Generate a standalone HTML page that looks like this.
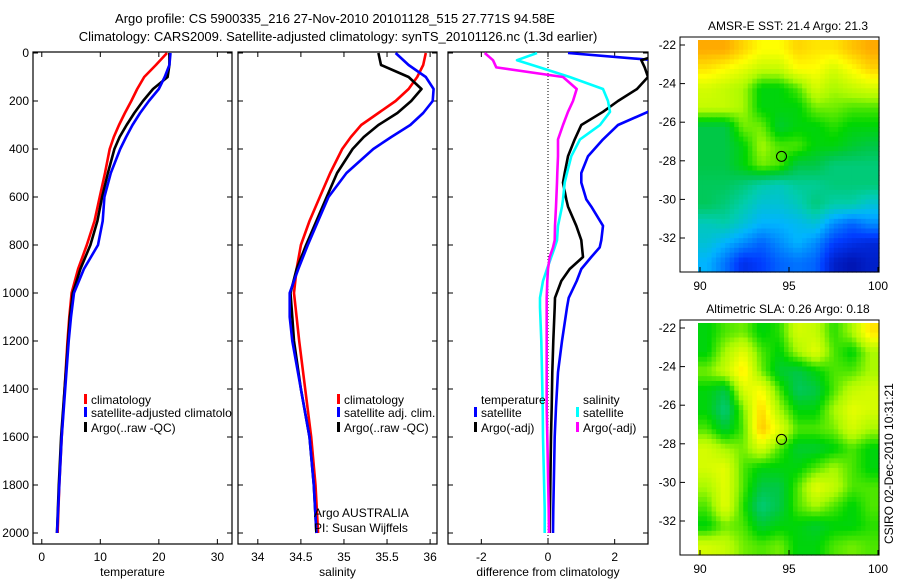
<!DOCTYPE html>
<html><head><meta charset="utf-8"><style>
body{margin:0;background:#fff;}
svg{display:block;font-family:"Liberation Sans",sans-serif;}
text{font-size:12px;fill:#000;}
</style></head><body>
<svg id="chart" width="900" height="580" viewBox="0 0 900 580">
<defs>
<clipPath id="c1"><rect x="33" y="52" width="199" height="492"/></clipPath>
<clipPath id="c2"><rect x="238" y="52" width="199" height="492"/></clipPath>
<clipPath id="c3"><rect x="448" y="52" width="200" height="492"/></clipPath>
</defs>
<text x="335" y="23" text-anchor="middle" style="font-size:13px">Argo profile: CS 5900335_216 27-Nov-2010 20101128_515 27.771S 94.58E</text>
<text x="338" y="41" text-anchor="middle" style="font-size:13px">Climatology: CARS2009. Satellite-adjusted climatology: synTS_20101126.nc (1.3d earlier)</text>
<g id="g"></g>
</svg>
<script>
// ---- data ----
const depths = [0,50,100,150,200,250,300,350,400,500,600,700,800,900,1000,1100,1200,1400,1600,1800,2000];
const tempClim = [21.4,19.5,17.5,16.3,15.3,14.2,13.2,12.3,11.6,10.8,9.9,9.0,7.7,6.2,5.1,4.7,4.4,3.9,3.4,3.0,2.7];
const tempSat  = [22.0,21.8,21.0,20.0,18.3,16.8,15.5,14.4,13.4,11.8,10.7,10.4,9.6,7.2,5.5,5.0,4.6,4.0,3.4,3.0,2.6];
const tempArgo = [21.8,21.8,21.5,19.0,17.3,15.8,14.5,13.3,12.4,11.3,10.3,9.5,8.3,6.6,5.3,4.8,4.5,3.9,3.3,2.9,2.6];
const salClim  = [35.95,35.92,35.85,35.75,35.6,35.4,35.2,35.08,34.98,34.84,34.72,34.6,34.5,34.45,34.42,34.45,34.48,34.55,34.62,34.67,34.7];
const salSat   = [35.6,35.75,35.95,36.04,36.03,35.92,35.77,35.55,35.34,35.03,34.82,34.7,34.58,34.47,34.37,34.37,34.4,34.5,34.6,34.65,34.68];
const salArgo  = [35.4,35.43,35.75,35.9,35.78,35.62,35.4,35.23,35.1,34.92,34.8,34.68,34.56,34.45,34.38,34.4,34.42,34.5,34.6,34.65,34.68];
const diffDepths = [0,30,60,100,150,200,245,300,360,430,500,540,610,640,720,780,810,850,900,950,1020,1060,1200,1330,1475,1600,1900,2000];
const dTempSat  = [0.6,3.2,3.6,3.8,3.6,3.4,3.0,2.1,1.65,1.2,1.0,1.0,1.15,1.3,1.65,1.6,1.55,1.3,1.0,0.86,0.62,0.57,0.42,0.3,0.24,0.2,0.16,0.15];
const dTempArgo = [3.5,2.8,2.9,3.0,2.67,2.1,1.65,1.0,0.8,0.6,0.5,0.45,0.55,0.6,0.85,1.0,1.02,1.05,0.65,0.4,0.21,0.2,0.16,0.13,0.11,0.09,0.06,0.05];
const dSalSat   = [-0.33,-0.93,-0.25,0.65,1.65,1.8,1.86,1.56,0.96,0.7,0.57,0.5,0.45,0.42,0.3,0.27,0.2,0.1,-0.03,-0.15,-0.24,-0.24,-0.2,-0.18,-0.16,-0.15,-0.1,-0.1];
const dSalArgo  = [-1.9,-1.65,-1.55,0.45,0.86,0.75,0.6,0.45,0.3,0.3,0.28,0.27,0.25,0.24,0.21,0.2,0.15,0.05,0.0,-0.02,-0.04,-0.04,-0.04,-0.04,-0.04,-0.02,0.02,0.03];
const depthTicks = [0,200,400,600,800,1000,1200,1400,1600,1800,2000];
const tempTicks = [0,10,20,30];
const salTicks = [34,34.5,35,35.5,36];
const salTickLabels = ["34","34.5","35","35.5","36"];
const diffTicks = [-2,0,2];
const latTicks = [-22,-24,-26,-28,-30,-32];
const lonTicks = [90,95,100];
const sstGrid = [
[.85,.85,.8,.75,.75,.8,.78,.78,.82,.85],
[.78,.75,.72,.68,.68,.75,.75,.7,.75,.8],
[.7,.68,.65,.55,.55,.6,.7,.65,.68,.7],
[.68,.68,.65,.55,.55,.55,.62,.62,.6,.6],
[.5,.5,.62,.62,.52,.55,.55,.58,.55,.55],
[.5,.5,.55,.65,.6,.6,.55,.55,.52,.5],
[.5,.5,.55,.62,.6,.5,.5,.45,.45,.45],
[.48,.48,.45,.4,.38,.42,.42,.45,.45,.45],
[.48,.45,.4,.35,.35,.38,.45,.4,.4,.35],
[.38,.4,.35,.3,.3,.32,.35,.25,.2,.25],
[.35,.3,.25,.2,.25,.3,.25,.15,.12,.1],
[.3,.22,.12,.15,.2,.22,.2,.08,.05,.08]];
const slaGrid = [
[.55,.6,.62,.55,.58,.7,.68,.58,.65,.78],
[.55,.65,.72,.6,.55,.65,.72,.6,.55,.65],
[.62,.68,.78,.62,.52,.5,.55,.6,.6,.65],
[.55,.5,.7,.75,.6,.48,.5,.6,.68,.7],
[.55,.45,.62,.8,.65,.55,.55,.65,.72,.7],
[.6,.52,.6,.82,.72,.6,.6,.62,.7,.65],
[.7,.65,.62,.7,.6,.52,.52,.55,.6,.55],
[.7,.72,.6,.55,.55,.55,.6,.65,.6,.55],
[.65,.72,.6,.5,.5,.6,.72,.68,.6,.6],
[.6,.72,.58,.45,.5,.6,.65,.6,.55,.6],
[.55,.62,.6,.52,.55,.55,.52,.55,.55,.58],
[.7,.68,.62,.6,.62,.55,.55,.6,.62,.6]];

const NS="http://www.w3.org/2000/svg";
const G=document.getElementById('g');
function mk(tag,at,parent){const e=document.createElementNS(NS,tag);for(const k in at)e.setAttribute(k,at[k]);(parent||G).appendChild(e);return e;}
const Y=d=>53+d*0.24;
const panels=[
 {x0:33,x1:232,vmin:-1.5,vmax:32.5,clip:'c1',ticks:tempTicks,labels:tempTicks.map(String),label:'temperature',name:'temperature'},
 {x0:238,x1:437,vmin:33.77,vmax:36.08,clip:'c2',ticks:salTicks,labels:salTickLabels,label:'salinity',name:'salinity'},
 {x0:448,x1:648,vmin:-3.0,vmax:3.0,clip:'c3',ticks:diffTicks,labels:diffTicks.map(String),label:'difference from climatology',name:'difference'}];
panels.forEach((p,i)=>{
 p.X=v=>p.x0+(v-p.vmin)/(p.vmax-p.vmin)*(p.x1-p.x0);
 const f=mk('rect',{x:p.x0,y:52,width:p.x1-p.x0,height:492,fill:'none',stroke:'#000','stroke-width':1.2});
 
 
 p.ticks.forEach((t,j)=>{
  const x=p.X(t);
  mk('line',{x1:x,x2:x,y1:544,y2:539,stroke:'#000'});mk('line',{x1:x,x2:x,y1:52,y2:57,stroke:'#000'});
  const tx=mk('text',{x:x,y:561,'text-anchor':'middle'});tx.textContent=p.labels[j];
  
  
 });
 depthTicks.forEach(d=>{
  mk('line',{x1:p.x0,x2:p.x0+5,y1:Y(d),y2:Y(d),stroke:'#000'});mk('line',{x1:p.x1,x2:p.x1-5,y1:Y(d),y2:Y(d),stroke:'#000'});
  if(i===0){const t=mk('text',{x:29,y:Y(d)+4,'text-anchor':'end'});t.textContent=d;
   
   }
 });
 const xl=mk('text',{x:(p.x0+p.x1)/2,y:576,'text-anchor':'middle'});xl.textContent=p.label;
 
 
});
const zx=panels[2].X(0);
const zl=mk('line',{x1:zx,x2:zx,y1:52,y2:544,stroke:'#000','stroke-dasharray':'1,2'});


function line(p,ds,vs,col,name){
 const pts=ds.map((d,k)=>p.X(vs[k]).toFixed(1)+','+Y(d).toFixed(1)).join(' ');
 const l=mk('polyline',{points:pts,fill:'none',stroke:col,'stroke-width':2.6,'clip-path':'url(#'+p.clip+')','stroke-linejoin':'round'});
 
 
}
line(panels[0],depths,tempClim,'#f00','temp-climatology-line');
line(panels[0],depths,tempArgo,'#000','temp-argo-line');
line(panels[0],depths,tempSat,'#00f','temp-satellite-line');
line(panels[1],depths,salClim,'#f00','sal-climatology-line');
line(panels[1],depths,salArgo,'#000','sal-argo-line');
line(panels[1],depths,salSat,'#00f','sal-satellite-line');
line(panels[2],diffDepths,dTempSat,'#00f','diff-temp-satellite-line');
line(panels[2],diffDepths,dTempArgo,'#000','diff-temp-argo-line');
line(panels[2],diffDepths,dSalSat,'#0ff','diff-sal-satellite-line');
line(panels[2],diffDepths,dSalArgo,'#f0f','diff-sal-argo-line');
function leg(x,y,col,txt,clip){
 if(col){const m=mk('rect',{x:x,y:y-10,width:3,height:10,fill:col});}
 const t=mk('text',{x:x+7,y:y});t.textContent=txt;if(clip)t.setAttribute('clip-path','url(#'+clip+')');
 
 
}
leg(84,404,'#f00','climatology');leg(84,417,'#00f','satellite-adjusted climatology','c1');leg(84,432,'#000','Argo(..raw -QC)');
leg(337,404,'#f00','climatology');leg(337,417,'#00f','satellite adj. clim.');leg(337,432,'#000','Argo(..raw -QC)');
leg(474,404,null,'temperature');leg(474,417,'#00f','satellite');leg(474,432,'#000','Argo(-adj)');
leg(576,404,null,'salinity');leg(576,417,'#0ff','satellite');leg(576,432,'#f0f','Argo(-adj)');
const a1=mk('text',{x:314,y:517});a1.textContent='Argo AUSTRALIA';
const a2=mk('text',{x:314,y:532});a2.textContent='PI: Susan Wijffels';
const cmStops=[[0,0,0,140],[.15,0,60,255],[.3,0,180,255],[.4,0,205,170],[.5,0,200,70],[.56,0,215,0],[.65,170,250,0],[.75,255,255,0],[.85,255,170,0],[1,255,80,0]];
function cmap(v){
 v=Math.max(0,Math.min(1,v));
 for(let i=1;i<cmStops.length;i++){const a=cmStops[i-1],b=cmStops[i];if(v<=b[0]){const t=(v-a[0])/(b[0]-a[0]);return `rgb(${Math.round(a[1]+t*(b[1]-a[1]))},${Math.round(a[2]+t*(b[2]-a[2]))},${Math.round(a[3]+t*(b[3]-a[3]))})`;}}
 return 'rgb(255,80,0)';
}
// bilinear sample of grid (cell centres)
function sample(grid,fr,fc){
 const R=grid.length,C=grid[0].length;
 let r=Math.max(0,Math.min(R-1,fr-0.5)),c=Math.max(0,Math.min(C-1,fc-0.5));
 const r0=Math.floor(r),c0=Math.floor(c),r1=Math.min(R-1,r0+1),c1=Math.min(C-1,c0+1),tr=r-r0,tc=c-c0;
 return (grid[r0][c0]*(1-tc)+grid[r0][c1]*tc)*(1-tr)+(grid[r1][c0]*(1-tc)+grid[r1][c1]*tc)*tr;
}
function map(top,grid,title,name){
 const lat0=top+5, dpy=19.3;
 const LY=l=>lat0+(-22-l)*dpy, LX=l=>700+(l-90)*17.8;
 const t=mk('text',{x:788,y:top-10,'text-anchor':'middle'});t.textContent=title;
 
 
 const g=mk('g',{});
 
 
 const S=4,R=grid.length,C=grid[0].length,cw=181/C/S,ch=232/R/S;
 for(let r=0;r<R*S;r++)for(let c=0;c<C*S;c++){
  const v=sample(grid,(r+0.5)/S,(c+0.5)/S);
  mk('rect',{x:(698+c*cw).toFixed(2),y:(top+r*ch).toFixed(2),width:(cw+0.6).toFixed(2),height:(ch+0.6).toFixed(2),fill:cmap(v)},g);
 }
 const fr=mk('rect',{x:680,y:top-3,width:199,height:235,fill:'none',stroke:'#000'});
 
 
 latTicks.forEach(l=>{mk('line',{x1:680,x2:685,y1:LY(l),y2:LY(l),stroke:'#000'});const tt=mk('text',{x:676,y:LY(l)+4,'text-anchor':'end'});tt.textContent=l;
  });
 lonTicks.forEach(l=>{mk('line',{x1:LX(l),x2:LX(l),y1:top+232,y2:top+227,stroke:'#000'});const tt=mk('text',{x:LX(l),y:top+250,'text-anchor':'middle'});tt.textContent=l;
  });
 const c=mk('ellipse',{cx:LX(94.58),cy:LY(-27.771),rx:5,ry:5,fill:'none',stroke:'#000'});
 
 
}
map(40,sstGrid,'AMSR-E SST: 21.4 Argo: 21.3','sst');
map(323,slaGrid,'Altimetric SLA: 0.26 Argo: 0.18','sla');
const cs=mk('text',{x:893,y:544,transform:'rotate(-90 893 544)'});cs.textContent='CSIRO 02-Dec-2010 10:31:21';


</script>
</body></html>
